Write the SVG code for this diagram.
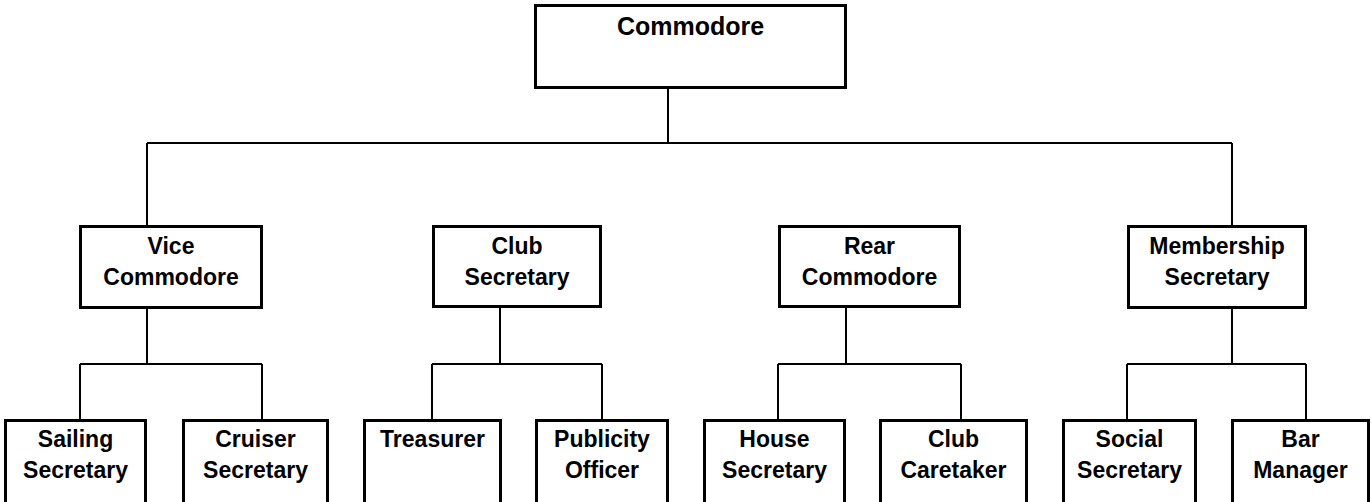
<svg xmlns="http://www.w3.org/2000/svg" width="1372" height="502" viewBox="0 0 1372 502">
<style>
.box{fill:#fff;stroke:#000;stroke-width:3}
.con{fill:none;stroke:#000;stroke-width:2}
text{font-family:"Liberation Sans",Arial,sans-serif;font-weight:bold;font-size:23px;text-anchor:middle;fill:#000}
.big{font-size:25px}
</style>
<rect width="1372" height="502" fill="#fff"/>
<g id="connectors" class="con">
<path d="M668 89V143M147 143H1232M147 143V225M1232 143V225"/>
<path d="M147 309V364M80 364H262M80 364V419M262 364V419"/>
<path d="M500 308V364M432 364H602M432 364V419M602 364V419"/>
<path d="M846 308V364M778 364H961M778 364V419M961 364V419"/>
<path d="M1232 309V364M1127 364H1306M1127 364V419M1306 364V419"/>
</g>
<g id="commodore"><rect class="box" x="535.5" y="5.5" width="310" height="82"/><text class="big" x="690.5" y="35">Commodore</text></g>
<g id="vice"><rect class="box" x="80.5" y="226.5" width="181" height="81"/><text x="171" y="254">Vice</text><text x="171" y="285">Commodore</text></g>
<g id="clubsec"><rect class="box" x="433.5" y="226.5" width="167" height="80"/><text x="517" y="254">Club</text><text x="517" y="285">Secretary</text></g>
<g id="rear"><rect class="box" x="779.5" y="226.5" width="180" height="80"/><text x="869.5" y="254">Rear</text><text x="869.5" y="285">Commodore</text></g>
<g id="membership"><rect class="box" x="1128.5" y="226.5" width="177" height="81"/><text x="1217" y="254">Membership</text><text x="1217" y="285">Secretary</text></g>
<g id="sailing"><rect class="box" x="5.5" y="420.5" width="140" height="100"/><text x="75.5" y="447">Sailing</text><text x="75.5" y="478">Secretary</text></g>
<g id="cruiser"><rect class="box" x="183.5" y="420.5" width="144" height="100"/><text x="255.5" y="447">Cruiser</text><text x="255.5" y="478">Secretary</text></g>
<g id="treasurer"><rect class="box" x="364.5" y="420.5" width="136" height="100"/><text x="432.5" y="447">Treasurer</text></g>
<g id="publicity"><rect class="box" x="536.5" y="420.5" width="131" height="100"/><text x="602" y="447">Publicity</text><text x="602" y="478">Officer</text></g>
<g id="house"><rect class="box" x="704.5" y="420.5" width="140" height="100"/><text x="774.5" y="447">House</text><text x="774.5" y="478">Secretary</text></g>
<g id="caretaker"><rect class="box" x="880.5" y="420.5" width="146" height="100"/><text x="953.5" y="447">Club</text><text x="953.5" y="478">Caretaker</text></g>
<g id="social"><rect class="box" x="1063.5" y="420.5" width="132" height="100"/><text x="1129.5" y="447">Social</text><text x="1129.5" y="478">Secretary</text></g>
<g id="bar"><rect class="box" x="1232.5" y="420.5" width="136" height="100"/><text x="1300.5" y="447">Bar</text><text x="1300.5" y="478">Manager</text></g>
</svg>
